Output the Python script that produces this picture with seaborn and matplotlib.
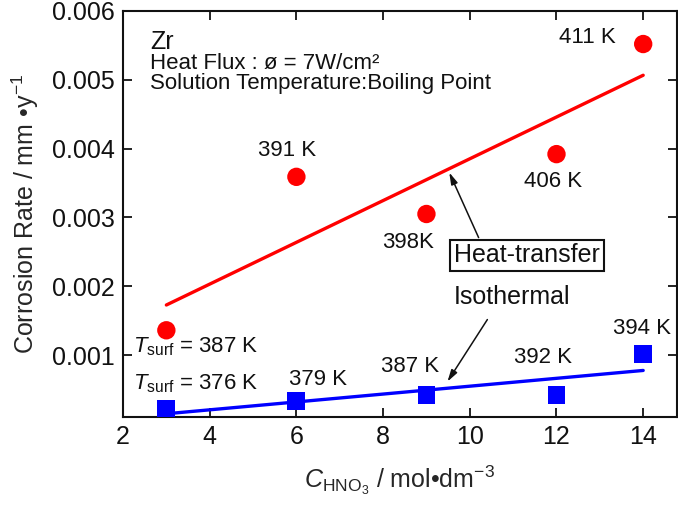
import matplotlib
matplotlib.use("Agg")
import matplotlib.pyplot as plt
import seaborn as sns
import numpy as np
import pandas as pd

# ---- data ----
conc = [3, 6, 9, 12, 14]
heat_transfer = [0.00136, 0.00359, 0.00305, 0.00392, 0.00552]
isothermal = [0.000215, 0.00033, 0.00042, 0.00042, 0.00101]
ht_labels = ["", "391 K", "398K", "406 K", "411 K"]
iso_labels = ["", "379 K", "387 K", "392 K", "394 K"]
x_ticks = [2, 4, 6, 8, 10, 12, 14]
y_ticks = [0.001, 0.002, 0.003, 0.004, 0.005, 0.006]

df_ht = pd.DataFrame({"c": conc, "rate": heat_transfer})
df_iso = pd.DataFrame({"c": conc, "rate": isothermal})

sns.set_style("ticks")
plt.rcParams["font.family"] = ["Liberation Sans", "DejaVu Sans"]
plt.rcParams["mathtext.fontset"] = "custom"
plt.rcParams["mathtext.rm"] = "Liberation Sans"
plt.rcParams["mathtext.it"] = "Liberation Sans:italic"
plt.rcParams["mathtext.bf"] = "Liberation Sans:bold"

fig = plt.figure(figsize=(6.78, 5.09), dpi=100)
ax = fig.add_axes([123 / 678, (509 - 417) / 509, (677 - 123) / 678, (417 - 11) / 509])

# regression lines
sns.regplot(data=df_ht, x="c", y="rate", scatter=False, ci=None, ax=ax,
            line_kws=dict(color="#ff0000", lw=2.4), truncate=True)
sns.regplot(data=df_iso, x="c", y="rate", scatter=False, ci=None, ax=ax,
            line_kws=dict(color="#0000ff", lw=2.4), truncate=True)

# points
sns.scatterplot(data=df_ht, x="c", y="rate", ax=ax, color="#ff0000", marker="o",
                s=175, edgecolor="none", zorder=5)
sns.scatterplot(data=df_iso, x="c", y="rate", ax=ax, color="#0000ff", marker="s",
                s=165, edgecolor="none", zorder=5)

ax.set_xlim(2, 14.78)
ax.set_ylim(0.0001, 0.006)
ax.set_xticks(x_ticks)
ax.set_yticks(y_ticks)
ax.set_xticklabels([str(v) for v in x_ticks])
ax.set_yticklabels([f"{v:.3f}" for v in y_ticks])
ax.tick_params(direction="in", top=True, right=True, length=6.5, width=1.3,
               labelsize=18, pad=6, colors="#111111")
for sp in ax.spines.values():
    sp.set_linewidth(1.5)
    sp.set_color("#111111")

ax.set_xlabel(r"$C_{\mathrm{HNO_3}}$ / mol•dm$^{-3}$", fontsize=18, labelpad=10)
ax.set_ylabel(r"Corrosion Rate / mm •y$^{-1}$", fontsize=18, labelpad=8)

tc = "#111111"
# header texts
ax.text(2.62, 0.00555, "Zr", fontsize=18, ha="left", va="center", color=tc)
ax.text(2.62, 0.00524, "Heat Flux : ø = 7W/cm²", fontsize=16, ha="left", va="center", color=tc)
ax.text(2.62, 0.00495, "Solution Temperature:Boiling Point", fontsize=16, ha="left", va="center", color=tc)

# point labels (heat-transfer)
ht_pos = [None, (5.78, 0.00398), (8.57, 0.00263), (11.92, 0.00352), (12.72, 0.00561)]
for lab, pos in zip(ht_labels, ht_pos):
    if lab:
        ax.text(pos[0], pos[1], lab, fontsize=16, ha="center", va="center", color=tc)
iso_pos = [None, (6.50, 0.00064), (8.62, 0.00083), (11.69, 0.00097), (13.97, 0.00139)]
for lab, pos in zip(iso_labels, iso_pos):
    if lab:
        ax.text(pos[0], pos[1], lab, fontsize=16, ha="center", va="center", color=tc)

ax.text(2.23, 0.00112, r"$T_{\mathrm{surf}}$ = 387 K", fontsize=16, ha="left", va="center", color=tc)
ax.text(2.23, 0.00059, r"$T_{\mathrm{surf}}$ = 376 K", fontsize=16, ha="left", va="center", color=tc)

# series labels with arrows
ax.text(11.32, 0.00245, "Heat-transfer", fontsize=18, ha="center", va="center", color=tc,
        bbox=dict(boxstyle="square,pad=0.15", fc="white", ec="#111111", lw=1.5), zorder=6)
ax.annotate("", xy=(9.50, 0.00369), xytext=(10.23, 0.00267),
            arrowprops=dict(arrowstyle="-|>,head_length=0.7,head_width=0.2", color="#111111", lw=1.1))
ax.text(10.97, 0.00184, "Isothermal", fontsize=18, ha="center", va="center", color=tc)
ax.annotate("", xy=(9.45, 0.00058), xytext=(10.44, 0.00155),
            arrowprops=dict(arrowstyle="-|>,head_length=0.7,head_width=0.2", color="#111111", lw=1.1))

fig.savefig("out.png", dpi=100)
